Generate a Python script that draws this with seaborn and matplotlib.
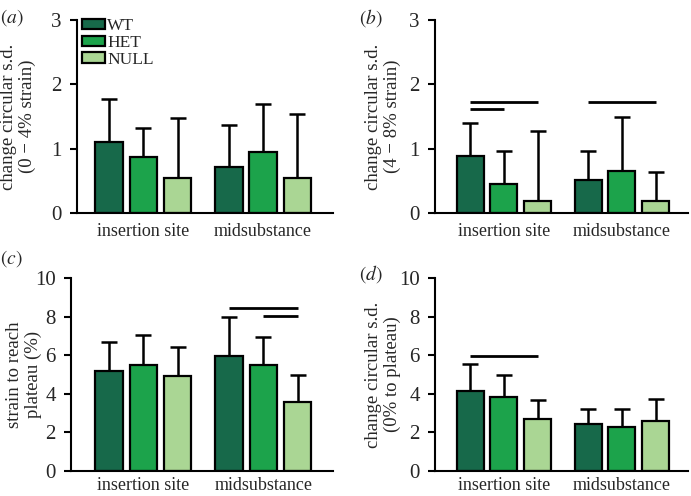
import numpy as np
import pandas as pd
import matplotlib
matplotlib.use("Agg")
import matplotlib.pyplot as plt
import seaborn as sns

# ==========================
# Data
# ==========================
sites = ["insertion site", "midsubstance"]
genotypes = ["WT", "HET", "NULL"]
palette = ["#17694a", "#1ca34b", "#aad694"]

# (a) change circular s.d. (0-4% strain)
a_mean = [1.10, 0.87, 0.55, 0.72, 0.95, 0.54]
a_top = [1.77, 1.32, 1.47, 1.37, 1.70, 1.54]
# (b) change circular s.d. (4-8% strain)
b_mean = [0.88, 0.45, 0.18, 0.52, 0.66, 0.19]
b_top = [1.40, 0.96, 1.27, 0.97, 1.50, 0.63]
# (c) strain to reach plateau (%)
c_mean = [5.20, 5.50, 4.90, 5.95, 5.50, 3.60]
c_top = [6.70, 7.05, 6.45, 8.00, 6.95, 5.00]
# (d) change circular s.d. (0% to plateau)
d_mean = [4.15, 3.85, 2.70, 2.45, 2.28, 2.60]
d_top = [5.55, 4.95, 3.70, 3.22, 3.22, 3.75]

# significance bars: (site index, from genotype, to genotype, y)
b_sig = [(0, 0, 2, 1.72), (0, 0, 1, 1.61), (1, 0, 2, 1.73)]
c_sig = [(1, 0, 2, 8.45), (1, 1, 2, 8.02)]
d_sig = [(0, 0, 2, 5.95)]

sns.set_theme(style="ticks")
plt.rcParams["font.family"] = ["Liberation Serif", "DejaVu Serif"]
plt.rcParams["mathtext.fontset"] = "stix"

fig = plt.figure(figsize=(6.91, 4.96), dpi=100)

# tag, mean, top, sig, axes rect, xlim, ymax, ystep, ylabel, label x, tag pos, x pad
panels = [
    ("a", a_mean, a_top, [], [0.1114, 0.5706, 0.370, 0.389], (-0.554, 1.58), 3, 1,
     "change circular s.d.\n(0 \u2212 4% strain)", -0.16, (0.0, 0.985), 7),
    ("b", b_mean, b_top, b_sig, [0.6295, 0.5706, 0.366, 0.389], (-0.585, 1.56), 3, 1,
     "change circular s.d.\n(4 \u2212 8% strain)", -0.135, (0.520, 0.985), 7),
    ("c", c_mean, c_top, c_sig, [0.103, 0.0504, 0.379, 0.389], (-0.60, 1.58), 10, 2,
     "strain to reach\nplateau (%)", -0.11, (0.0, 0.500), 4),
    ("d", d_mean, d_top, d_sig, [0.6295, 0.0504, 0.366, 0.389], (-0.585, 1.56), 10, 2,
     "change circular s.d.\n(0% to plateau)", -0.135, (0.520, 0.470), 4),
]

for tag, mean, top, sig, rect, xlim, ymax, ystep, ylab, labx, tagpos, xpad in panels:
    ax = fig.add_axes(rect)
    df = pd.DataFrame({
        "site": np.repeat(sites, 3),
        "genotype": genotypes * 2,
        "value": mean,
        "top": top,
    })
    sns.barplot(data=df, x="site", y="value", hue="genotype",
                hue_order=genotypes, palette=palette, width=0.857, gap=0.2,
                edgecolor="black", linewidth=1.6, saturation=1,
                errorbar=None, legend=(tag == "a"), ax=ax, zorder=2)
    bars = list(ax.containers)

    # upper-only error bars at each bar's centre
    for g, cont in enumerate(bars):
        for s, bar in enumerate(cont):
            row = df[(df["site"] == sites[s]) & (df["genotype"] == genotypes[g])].iloc[0]
            xc = bar.get_x() + bar.get_width() / 2
            ax.errorbar(xc, row["value"], yerr=[[0], [row["top"] - row["value"]]],
                        fmt="none", ecolor="black", elinewidth=1.8,
                        capsize=5.5, capthick=1.8, zorder=1)

    for s, g0, g1, y in sig:
        b0 = bars[g0][s]
        b1 = bars[g1][s]
        x0 = b0.get_x() + b0.get_width() / 2
        x1 = b1.get_x() + b1.get_width() / 2
        ax.plot([x0, x1], [y, y], color="black", lw=2.0, solid_capstyle="butt")

    ax.set_xlim(*xlim)
    ax.set_ylim(0, ymax)
    ax.set_yticks(np.arange(0, ymax + 0.1, ystep))
    ax.set_xlabel("")
    ax.set_ylabel(ylab, fontsize=13.5, linespacing=1.15)
    ax.yaxis.set_label_coords(labx, 0.5)
    ax.tick_params(axis="x", length=0, labelsize=13, pad=xpad)
    ax.tick_params(axis="y", length=5, width=1.5, labelsize=15, pad=6,
                   color="black")
    for sp in ["top", "right"]:
        ax.spines[sp].set_visible(False)
    for sp in ["left", "bottom"]:
        ax.spines[sp].set_linewidth(1.5)
        ax.spines[sp].set_color("black")

    if tag == "a":
        ax.legend(loc="upper left", bbox_to_anchor=(0.02, 1.01), frameon=False,
                  fontsize=12.5, handlelength=1.3, handleheight=0.55,
                  handletextpad=0.15, labelspacing=0.05, borderaxespad=0,
                  borderpad=0)

    fig.text(tagpos[0], tagpos[1], "$(\\mathit{" + tag + "})$", fontsize=14,
             ha="left", va="top")

fig.savefig("out.png", dpi=100)
